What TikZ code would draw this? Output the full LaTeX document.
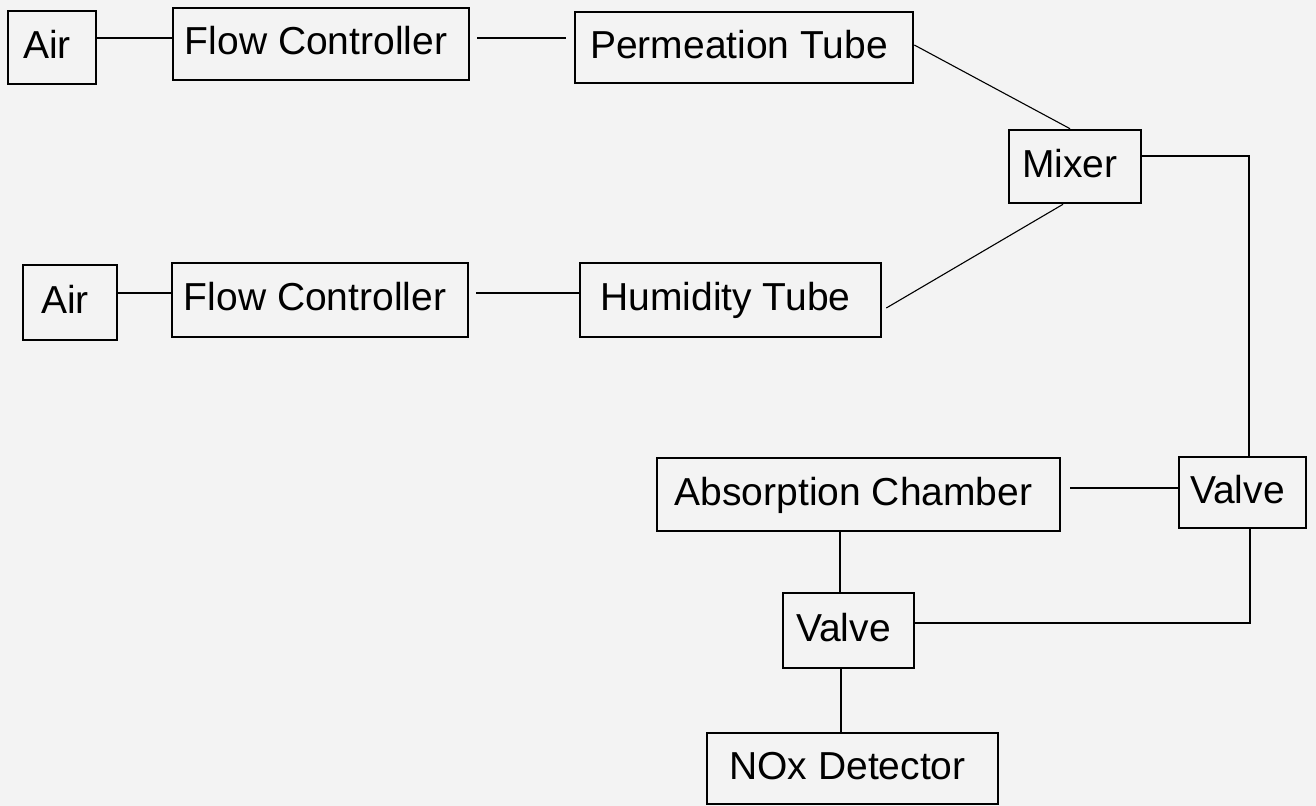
\documentclass[tikz,border=0pt]{standalone}
\usepackage{fontspec}
\setmainfont{Liberation Sans}
\definecolor{bgcol}{HTML}{F3F3F3}
\begin{document}
\begin{tikzpicture}[x=0.5pt,y=-0.5pt,
  box/.style={draw=black, line width=1.3pt, inner sep=0pt, fill=none,
    text height=14pt, text depth=3pt,
    execute at end node={\kern5pt},
    font=\fontsize{19.5}{22}\selectfont},
  conn/.style={draw=black, line width=0.55pt}]
\useasboundingbox (0,0) rectangle (1316,806);
\fill[bgcol] (0,0) rectangle (1316,806);
% boxes
\node[box, minimum width=44pt, minimum height=36.5pt] (air1) at (52,47.5) {Air};
\node[box, minimum width=148pt, minimum height=36pt] (fc1) at (321,44) {Flow Controller};
\node[box, minimum width=169pt, minimum height=35.5pt] (perm) at (744,47.5) {Permeation Tube};
\node[box, minimum width=66pt, minimum height=36.5pt] (mixer) at (1075,166.5) {Mixer};
\node[box, minimum width=47pt, minimum height=37.5pt] (air2) at (70,302.5) {Air};
\node[box, minimum width=148pt, minimum height=37pt] (fc2) at (320,300) {Flow Controller};
\node[box, minimum width=150.5pt, minimum height=37pt] (hum) at (730.5,300) {Humidity Tube};
\node[box, minimum width=201.5pt, minimum height=36.5pt] (abs) at (858.5,494.5) {Absorption Chamber};
\node[box, minimum width=63.5pt, minimum height=35.5pt] (valveR) at (1242.5,492.5) {Valve};
\node[box, minimum width=65.5pt, minimum height=37.5pt] (valve2) at (848.5,630.5) {Valve};
\node[box, minimum width=145.5pt, minimum height=35.5pt] (nox) at (852.5,768.5) {NOx Detector};
% connectors
\draw[conn] (air1.east |- 0,38) -- (fc1.west |- 0,38);
\draw[conn, shorten <=3.5pt, shorten >=4pt] (fc1.east |- 0,38) -- (perm.west |- 0,38);
\draw[conn] (air2.east |- 0,293) -- (fc2.west |- 0,293);
\draw[conn, shorten <=3.5pt] (fc2.east |- 0,293) -- (hum.west |- 0,293);
\draw[conn] (perm.east |- 0,45) -- ([xshift=-2.5pt]mixer.north);
\draw[conn] ([xshift=2pt,yshift=-4pt]hum.east) -- ([xshift=-6pt]mixer.south);
\draw[conn] (mixer.east |- 0,156) -| (valveR.north -| 1249,0);
\draw[conn, shorten <=4.5pt] (abs.east |- 0,488) -- (valveR.west |- 0,488);
\draw[conn] (abs.south -| 840,0) -- (valve2.north -| 840,0);
\draw[conn] (valveR.south -| 1250,0) |- (valve2.east |- 0,623);
\draw[conn] (valve2.south -| 841,0) -- (nox.north -| 841,0);
\end{tikzpicture}
\end{document}
